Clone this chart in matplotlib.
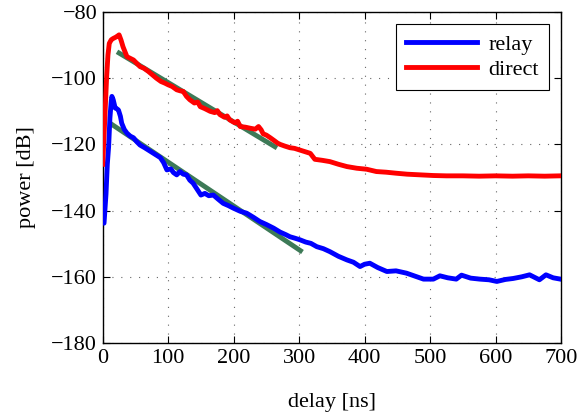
import numpy as np
import matplotlib
matplotlib.use("Agg")
import matplotlib.pyplot as plt

# valori: ritardo [ns] e potenza [dB]
ritardo_direct = [0, 3, 6, 8, 10, 13, 16, 20, 23, 25, 28, 31, 34, 37, 42, 47, 52, 57, 63, 70, 76, 82, 89, 95,
                  100, 106, 113, 118, 123, 128, 133, 140, 145, 149, 156, 164, 171, 175, 179, 186, 190, 194, 202,
                  206, 210, 218, 225, 233, 238, 242, 245, 250, 256, 263, 267, 271, 278, 286, 293, 301, 309, 317,
                  324, 335, 347, 360, 373, 388, 403, 418, 433, 448, 465, 485, 505, 525, 550, 575, 600, 626, 650,
                  675, 698]
potenza_direct = [-126, -113, -99.5, -93, -89.5, -88.4, -88, -87.6, -87.2, -86.9, -88.5, -90.5, -92, -93.5, -94,
                  -94.5, -95.5, -96.5, -97, -98, -99, -100, -101, -101.5, -102, -102.5, -103.5, -103.8, -104,
                  -105.5, -106.5, -107.5, -107.2, -108.6, -109.2, -110, -110.4, -109.8, -111, -111.8, -111.4,
                  -112.6, -113.5, -113, -114.6, -114.8, -115.1, -115.4, -114.6, -115.6, -116.8, -117.2, -118,
                  -119, -119.6, -120, -120.5, -121, -121.2, -121.7, -122.2, -122.7, -124.5, -124.8, -125.2, -126,
                  -126.7, -127.2, -127.5, -128.2, -128.4, -128.7, -129, -129.2, -129.4, -129.5, -129.5, -129.6,
                  -129.5, -129.6, -129.5, -129.6, -129.5]

ritardo_relay = [0, 2, 5, 7, 9, 11, 13, 14, 16, 19, 22, 24, 27, 29, 33, 37, 42, 47, 52, 57, 64, 72, 80, 88, 93,
                 98, 104, 108, 113, 118, 123, 128, 133, 138, 144, 150, 156, 162, 169, 176, 184, 192, 200, 210,
                 220, 230, 240, 250, 261, 271, 280, 286, 293, 301, 310, 318, 327, 337, 347, 360, 373, 383, 393,
                 400, 408, 420, 434, 448, 464, 477, 490, 505, 515, 527, 540, 548, 562, 576, 590, 602, 615, 627,
                 640, 652, 660, 667, 677, 688, 699]
potenza_relay = [-143.5, -143.8, -135, -126, -120.7, -112, -107, -105.5, -106.5, -109, -109.3, -109.6, -111.5,
                 -113.6, -115.5, -116.6, -117.5, -118, -119.2, -120.2, -121, -122, -123, -124, -125.5, -127.7,
                 -127.4, -128.5, -129.2, -128.2, -129, -129.2, -130.8, -131.7, -133.5, -135.3, -134.8, -135.5,
                 -135.3, -136.5, -137.8, -138.5, -139.3, -140.2, -140.8, -142, -143.3, -144.2, -145.3, -146.5,
                 -147.3, -147.9, -148.3, -148.8, -149.5, -149.9, -150.9, -151.5, -152.4, -153.8, -154.9, -155.6,
                 -156.9, -156.2, -155.9, -157.2, -158.4, -158.2, -158.9, -159.8, -160.7, -160.7, -159.7, -160.3,
                 -160.7, -159.5, -160.4, -160.7, -160.9, -161.4, -160.8, -160.5, -160, -159.4, -160.2, -160.9,
                 -159.4, -160.3, -160.7]

# rette di regressione (estremi)
fit_direct_x = [25, 263]
fit_direct_y = [-92.4, -120.7]
fit_relay_x = [15, 302]
fit_relay_y = [-114.1, -152.1]

plt.rcParams['font.family'] = ['Liberation Serif', 'DejaVu Serif']

fig = plt.figure(figsize=(5.81, 4.18), dpi=100)
ax = fig.add_axes([0.1768, 0.1794, 0.9656 - 0.1768, 0.9713 - 0.1794])

verde = '#3d7a57'
ax.plot(ritardo_relay, potenza_relay, color='blue', lw=3.5, label='relay', solid_joinstyle='round', zorder=3)
ax.plot(ritardo_direct, potenza_direct, color='red', lw=3.5, label='direct', solid_joinstyle='round', zorder=3)
ax.plot(fit_direct_x, fit_direct_y, color=verde, lw=3.5, zorder=2)
ax.plot(fit_relay_x, fit_relay_y, color=verde, lw=3.5, zorder=2)

ax.set_xlim(0, 700)
ax.set_ylim(-180, -80)
ax.set_xticks(np.arange(0, 701, 100))
ax.set_yticks(np.arange(-180, -79, 20))
ax.set_yticklabels(['\u2212' + str(abs(v)) for v in range(-180, -79, 20)])
ax.grid(True, linestyle=(0, (1, 7)), color='#666666', linewidth=0.8)
ax.tick_params(direction='in', top=True, right=True, length=5, width=0.8, labelsize=16, pad=4)
for s in ax.spines.values():
    s.set_linewidth(1.0)

ax.set_xlabel('delay [ns]', fontsize=16, labelpad=18)
ax.set_ylabel('power [dB]', fontsize=16, labelpad=11)

leg = ax.legend(loc='upper right', fontsize=16, fancybox=False, framealpha=1, edgecolor='black',
                handlelength=3.2, borderaxespad=0.55, borderpad=0.45, handletextpad=0.5, labelspacing=0.2)
leg.get_frame().set_linewidth(0.8)

fig.savefig('out.png', dpi=100)
